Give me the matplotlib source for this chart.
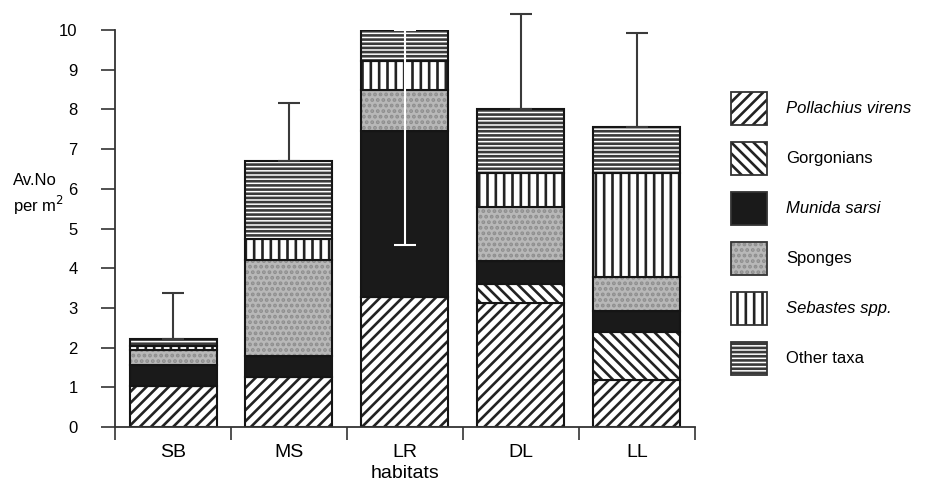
import numpy as np
import matplotlib
matplotlib.use('Agg')
import matplotlib.pyplot as plt
from matplotlib.patches import Rectangle

plt.rcParams['font.family'] = ['Liberation Sans', 'DejaVu Sans']
plt.rcParams['hatch.linewidth'] = 1.9

# data (Av. No per m2)
habitats = ['SB', 'MS', 'LR', 'DL', 'LL']
pollachius = [1.04, 1.27, 3.28, 3.13, 1.19]
gorgonians = [0.00, 0.00, 0.00, 0.46, 1.21]
munida = [0.53, 0.51, 4.18, 0.60, 0.53]
sponges = [0.38, 2.42, 1.02, 1.34, 0.86]
sebastes = [0.10, 0.53, 0.73, 0.88, 2.60]
other = [0.17, 1.96, 0.79, 1.59, 1.16]
errors = [1.15, 1.48, 5.42, 2.40, 2.38]

# name, values, face colour, hatch colour, hatch, font style
series = [
    ('Pollachius virens', pollachius, 'white', '#222222', '///', 'italic'),
    ('Gorgonians', gorgonians, 'white', '#222222', '\\\\\\', 'normal'),
    ('Munida sarsi', munida, '#1a1a1a', '#1a1a1a', None, 'italic'),
    ('Sponges', sponges, '#b8b8b8', '#8e8e8e', '...', 'normal'),
    ('Sebastes spp.', sebastes, 'white', '#222222', '||', 'italic'),
    ('Other taxa', other, 'white', '#3a3a3a', '----', 'normal'),
]

fig = plt.figure(figsize=(9.26, 4.87), dpi=100)
ax = fig.add_axes([0.1242, 0.1232, 0.6263, 0.8152])

x = np.arange(len(habitats))
width = 0.75
bottom = np.zeros(len(habitats))
for name, vals, fc, hc, hatch, style in series:
    vals = np.array(vals)
    ax.bar(x, vals, width, bottom=bottom, color=fc, edgecolor=hc, hatch=hatch, linewidth=0)
    ax.bar(x, vals, width, bottom=bottom, fill=False, edgecolor='#151515', linewidth=1.5)
    bottom += vals

totals = bottom.copy()
for i in range(len(habitats)):
    if habitats[i] == 'LR':
        # upper part runs off the axis, only the lower whisker is drawn (white)
        ax.errorbar(x[i], totals[i], yerr=[[errors[i]], [0]], color='white', lw=1.5,
                    capsize=8, capthick=1.5, fmt='none', zorder=5)
    else:
        ax.errorbar(x[i], totals[i], yerr=[[0], [errors[i]]], color='#3a3a3a', lw=1.5,
                    capsize=8, capthick=1.5, fmt='none', clip_on=False, zorder=5)

ax.set_xlim(-0.5, len(habitats) - 0.5)
ax.set_ylim(0, 10)
ax.set_yticks(range(0, 11))
ax.tick_params(axis='y', direction='out', length=10, width=1.2, labelsize=12, pad=17, color='#333333')
ax.set_xticks(np.arange(-0.5, len(habitats), 1.0))
ax.set_xticklabels([])
ax.tick_params(axis='x', which='major', direction='out', length=9, width=1.2, color='#333333')
ax.set_xticks(x, minor=True)
ax.set_xticklabels(habitats, minor=True, fontsize=14)
ax.tick_params(axis='x', which='minor', length=0, pad=12)
ax.set_xlabel('habitats', fontsize=14, labelpad=3)

for s in ['top', 'right']:
    ax.spines[s].set_visible(False)
for s in ['left', 'bottom']:
    ax.spines[s].set_linewidth(1.3)
    ax.spines[s].set_color('#333333')

fig.text(0.014, 0.60, 'Av.No\nper m$^2$', fontsize=12, va='center', ha='left', linespacing=1.35)

# legend drawn by hand in pixel coordinates of the figure
lax = fig.add_axes([0, 0, 1, 1])
lax.set_xlim(0, 926)
lax.set_ylim(487, 0)
lax.axis('off')
for i, (name, vals, fc, hc, hatch, style) in enumerate(series):
    top = 92 + i * 50
    lax.add_patch(Rectangle((731, top), 36, 33, facecolor=fc, edgecolor=hc, hatch=hatch, linewidth=0))
    lax.add_patch(Rectangle((731, top), 36, 33, fill=False, edgecolor='#333333', linewidth=1.3))
    lax.text(786, top + 16.5, name, fontsize=12, fontstyle=style, va='center', ha='left')

fig.savefig('out.png', dpi=100)
